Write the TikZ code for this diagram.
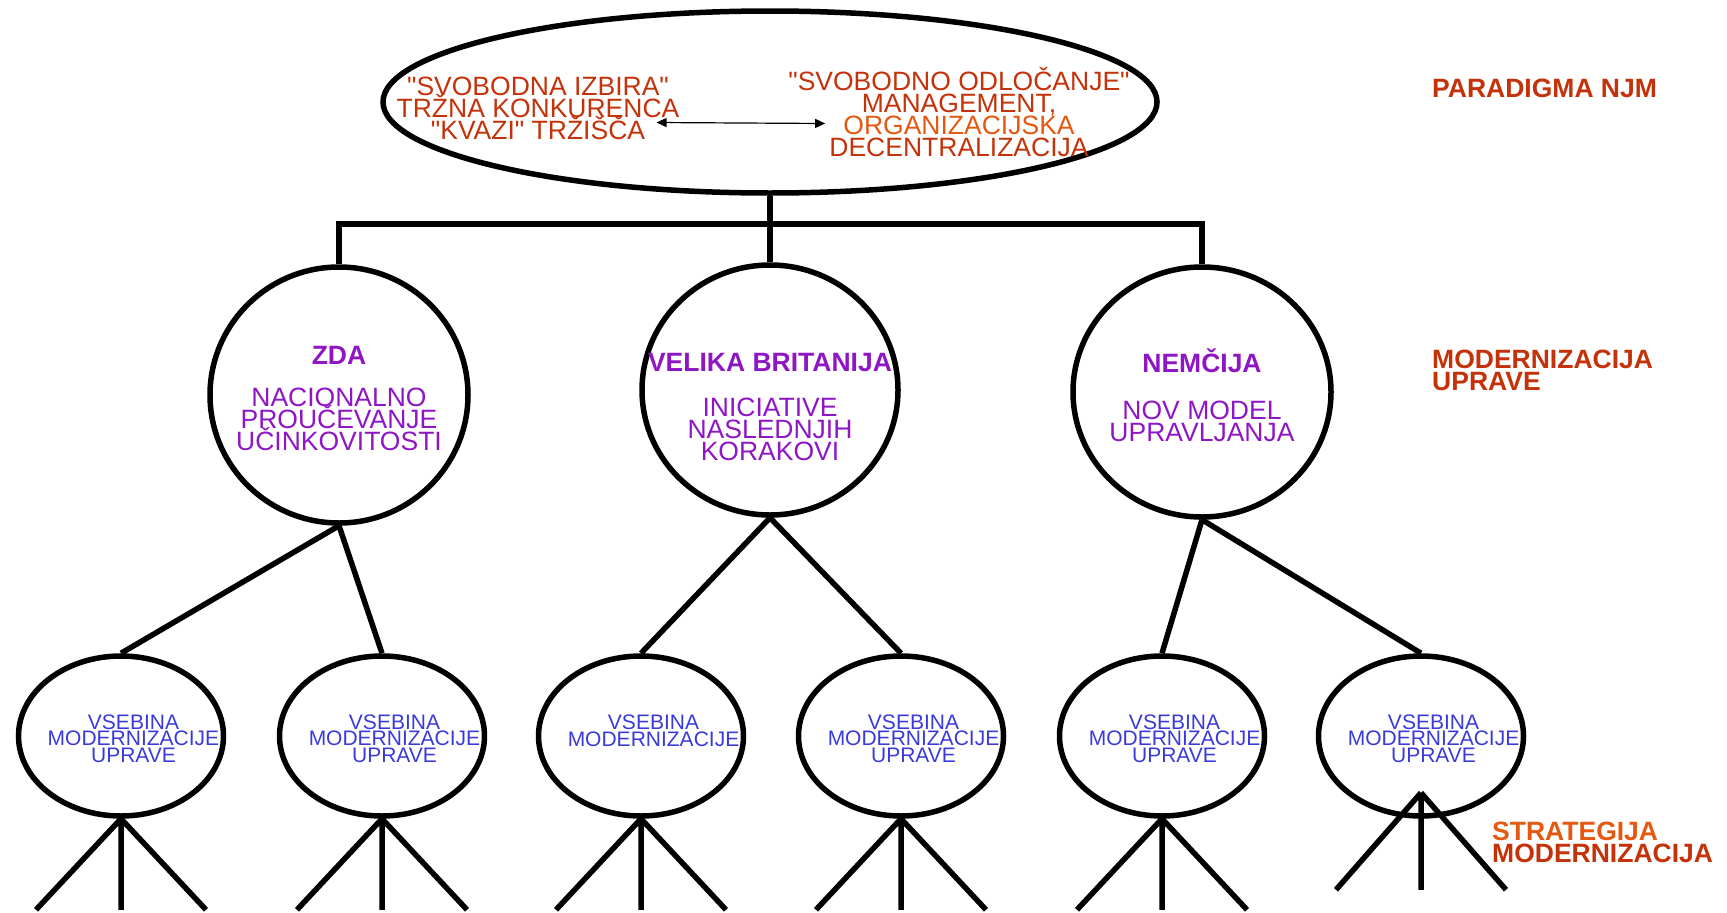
\documentclass[tikz,border=0pt]{standalone}
\usepackage{fontspec}
\setmainfont{Liberation Sans}[Ligatures=TeXOff]
\usetikzlibrary{shapes.geometric,arrows.meta}

\definecolor{njmred}{RGB}{196,50,10}
\definecolor{njmorange}{RGB}{228,88,16}
\definecolor{drzava}{RGB}{142,22,196}
\definecolor{vsebina}{RGB}{58,58,218}

\newcommand\tesno{\lineskiplimit=-50pt\relax} % tight lines, even with accents

\begin{document}
\begin{tikzpicture}[x=1pt,y=-1pt]

  \def\lw{5.5pt}   % stroke width of the shapes and branches
  \def\leg{85}     % horizontal spread of the legs at the bottom

  % styles of the tree
  \tikzstyle{krog}=[draw, ellipse, line width=\lw, inner sep=0pt]
  \tikzstyle{veja}=[line width=\lw]
  \tikzstyle{besedilo}=[inner sep=0pt, align=center, font=\fontsize{26.5}{22}\selectfont\tesno]
  \tikzstyle{mali}=[inner sep=0pt, align=center, text=vsebina, font=\fontsize{21}{16.5}\selectfont\tesno]
  \tikzstyle{oznaka}=[inner sep=0pt, anchor=west, align=left, text=njmred, font=\bfseries\fontsize{26.5}{22}\selectfont\tesno]

  \useasboundingbox (0,0) rectangle (1727,913);

  % paradigm on top
  \node[krog, minimum width=774pt, minimum height=182pt] (njm) at (770,102) {};
  \node[besedilo, text=njmred] (izbira) at (538,108.5) {"SVOBODNA IZBIRA"\\TRŽNA KONKURENCA\\"KVAZI" TRŽIŠČA};
  \node[besedilo, text=njmred] (odlocanje) at (959,112) {"SVOBODNO ODLOČANJE"\\MANAGEMENT,\\\textcolor{njmorange}{ORGANIZACIJSKA}\\DECENTRALIZACIJA};
  \draw[{Triangle[length=10pt,width=9pt]}-{Triangle[length=10pt,width=9pt]}, line width=1.2pt]
    ([shift={(-23pt,-14pt)}]izbira.east) -- ([shift={(37pt,-11.5pt)}]odlocanje.west);

  % countries
  \node[krog, minimum width=258pt, minimum height=256pt] (zda) at (339,395) {};
  \node[krog, minimum width=256pt, minimum height=250pt] (vb) at (770,390) {};
  \node[krog, minimum width=258pt, minimum height=250pt] (nem) at (1202,392) {};
  \node[besedilo, text=drzava] (zdatxt) at (339,398.5) {\textbf{ZDA}\\[20pt]NACIONALNO\\PROUČEVANJE\\UČINKOVITOSTI};
  \node[besedilo, text=drzava] (vbtxt) at (770,407.5) {\textbf{VELIKA BRITANIJA}\\[23pt]INICIATIVE\\NASLEDNJIH\\KORAKOVI};
  \node[besedilo, text=drzava] (nemtxt) at (1202,395) {\textbf{NEMČIJA}\\[25pt]NOV MODEL\\UPRAVLJANJA};

  % contents of modernisation
  \foreach \nm/\x in {b1/121, b2/382, b3/641, b4/901, b5/1162, b6/1421}
    \node[krog, minimum width=205pt, minimum height=160pt] (\nm) at (\x,736) {};
  \foreach \nm in {b1,b2,b4,b5,b6}
    \node[mali] (\nm-txt) at ([shift={(12.5pt,-2.5pt)}]\nm) {VSEBINA\\MODERNIZACIJE\\UPRAVE};
  \node[mali] (b3-txt) at ([shift={(12.5pt,5pt)}]b3) {VSEBINA\\MODERNIZACIJE};

  % branches
  \coordinate (razcep) at (770,224);
  \draw[veja] (njm.south) -- (vb.north);
  \draw[veja] (zda.north) |- (razcep) -| (nem.north);
  \draw[veja] (zda.south) -- (b1.north) (zda.south) -- (b2.north);
  \draw[veja] (vb.south) -- (b3.north) (vb.south) -- (b4.north);
  \draw[veja] (nem.south) -- (b5.north) (nem.south) -- (b6.north);

  % legs at the bottom
  \foreach \nm in {b1,b2,b3,b4,b5}
    \draw[veja] (\nm.south) -- ++(-\leg,91) (\nm.south) -- ++(0,91) (\nm.south) -- ++(\leg,91);
  \draw[veja] ([yshift=26pt]b6.south) -- ++(-\leg,97) ([yshift=26pt]b6.south) -- ++(0,97)
    ([yshift=26pt]b6.south) -- ++(\leg,97);

  % levels
  \node[oznaka] (paradigma) at (1432,88) {PARADIGMA NJM};
  \node[oznaka] (modernizacija) at (1432,370) {MODERNIZACIJA\\UPRAVE};
  \node[oznaka] (strategija) at (1492,842.5) {\textcolor{njmorange}{STRATEGIJA}\\MODERNIZACIJA};

\end{tikzpicture}
\end{document}
